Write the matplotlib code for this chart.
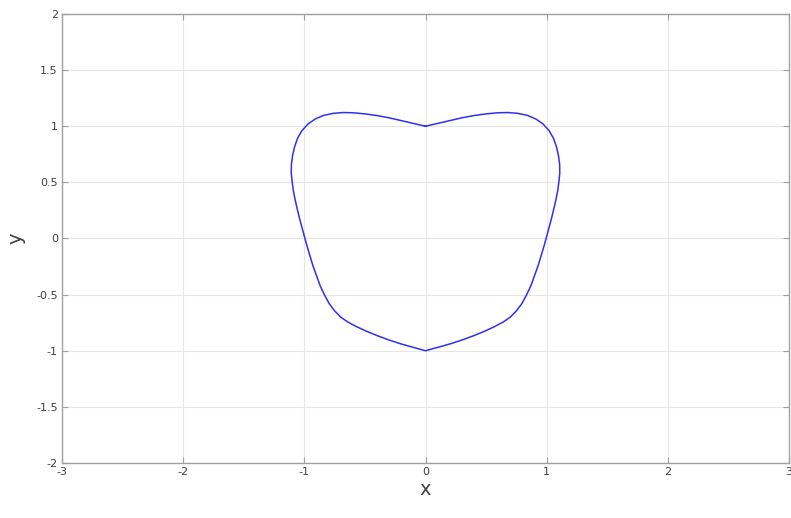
import matplotlib
matplotlib.use("Agg")
import matplotlib.pyplot as plt

# curve points (clockwise, starting at the top dip)
x_pts = [0.00, 0.10, 0.20, 0.30, 0.40, 0.50, 0.60, 0.68, 0.76, 0.84, 0.91,
         0.97, 1.02, 1.055, 1.08, 1.097, 1.107, 1.108, 1.10, 1.09, 1.075,
         1.058, 1.04, 1.02, 1.00, 0.98, 0.955, 0.93, 0.90, 0.87, 0.835,
         0.795, 0.75, 0.70, 0.64, 0.57, 0.49, 0.40, 0.30, 0.20, 0.10, 0.00,
         -0.10, -0.20, -0.30, -0.40, -0.49, -0.57, -0.64, -0.70, -0.75,
         -0.795, -0.835, -0.87, -0.90, -0.93, -0.955, -0.98, -1.00, -1.02,
         -1.04, -1.058, -1.075, -1.09, -1.10, -1.108, -1.107, -1.097, -1.08,
         -1.055, -1.02, -0.97, -0.91, -0.84, -0.76, -0.68, -0.60, -0.50,
         -0.40, -0.30, -0.20, -0.10, 0.00]
y_pts = [1.00, 1.025, 1.05, 1.075, 1.095, 1.11, 1.12, 1.122, 1.115, 1.097,
         1.065, 1.02, 0.96, 0.895, 0.82, 0.74, 0.66, 0.58, 0.50, 0.42, 0.34,
         0.26, 0.18, 0.10, 0.02, -0.06, -0.15, -0.24, -0.33, -0.42, -0.50,
         -0.58, -0.645, -0.70, -0.745, -0.785, -0.825, -0.865, -0.905, -0.94,
         -0.97, -1.00,
         -0.97, -0.94, -0.905, -0.865, -0.825, -0.785, -0.745, -0.70, -0.645,
         -0.58, -0.50, -0.42, -0.33, -0.24, -0.15, -0.06, 0.02, 0.10,
         0.18, 0.26, 0.34, 0.42, 0.50, 0.58, 0.66, 0.74, 0.82,
         0.895, 0.96, 1.02, 1.065, 1.097, 1.115, 1.122, 1.12, 1.11,
         1.095, 1.075, 1.05, 1.025, 1.00]

x_ticks = [-3, -2, -1, 0, 1, 2, 3]
y_ticks = [-2, -1.5, -1, -0.5, 0, 0.5, 1, 1.5, 2]
y_tick_labels = ['-2', '-1.5', '-1', '-0.5', '0', '0.5', '1', '1.5', '2']

fig = plt.figure(figsize=(7.91, 5.18), dpi=100)
ax = fig.add_axes([0.0784, 0.1062, 0.9191, 0.8668])

ax.plot(x_pts, y_pts, color='#3030f0', linewidth=1.1)

ax.set_xlim(-3, 3)
ax.set_ylim(-2, 2)
ax.set_xticks(x_ticks)
ax.set_xticklabels([str(t) for t in x_ticks])
ax.set_yticks(y_ticks)
ax.set_yticklabels(y_tick_labels)

ax.grid(True, color='#e6e6e6', linewidth=0.8)
ax.set_axisbelow(True)
for s in ax.spines.values():
    s.set_color('#a0a0a0')
    s.set_linewidth(1.0)
ax.tick_params(direction='in', length=4, width=0.8, color='#a0a0a0',
               labelsize=8, labelcolor='#404040', top=True, right=True, pad=3)

ax.set_xlabel('x', fontsize=14, color='#404040', labelpad=2)
ax.set_ylabel('y', fontsize=14, color='#404040', labelpad=8)

fig.savefig('out.png', dpi=100)
